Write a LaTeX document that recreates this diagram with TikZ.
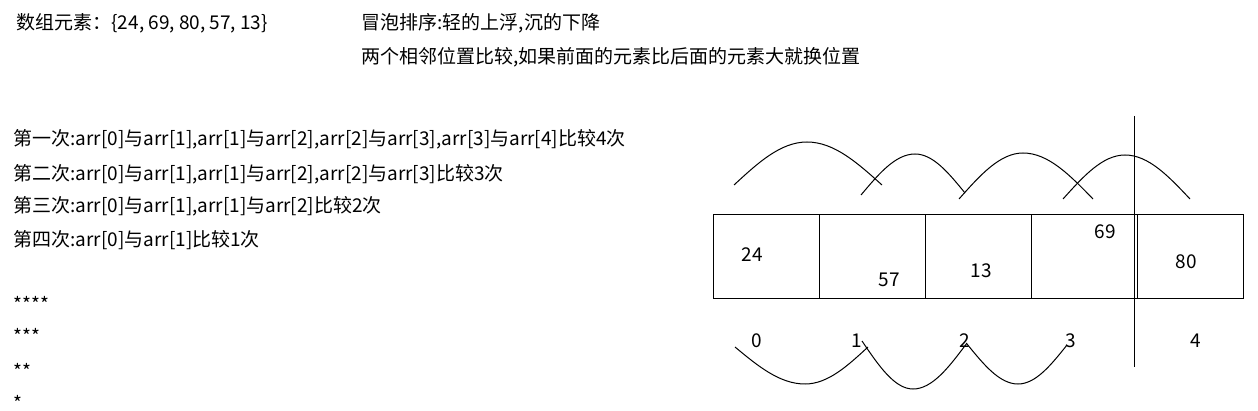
\documentclass[tikz,border=0pt]{standalone}
\usepackage{fontspec}
\setmainfont{Noto Sans CJK SC}
\usetikzlibrary{positioning}

\begin{document}
\begin{tikzpicture}[x=1pt,y=-1pt,node distance=106pt,on grid,line width=1pt,
  every node/.style={font=\fontsize{19}{23}\selectfont,inner sep=0pt},
  cell/.style={draw,minimum width=106pt,minimum height=84pt},
  txt/.style={anchor=base west},
  num/.style={anchor=base}]
  \useasboundingbox (0,0) rectangle (1258,411);

  % explanation text
  \node[txt] (title) at (16,30)  {数组元素：\{24, 69, 80, 57, 13\}};
  \node[txt] (rule1) at (361,30) {冒泡排序:轻的上浮,沉的下降};
  \node[txt] (rule2) at (361,64) {两个相邻位置比较,如果前面的元素比后面的元素大就换位置};
  \node[txt] (p1) at (13,146)   {第一次:arr[0]与arr[1],arr[1]与arr[2],arr[2]与arr[3],arr[3]与arr[4]比较4次};
  \node[txt] (p2) at (13,180.5) {第二次:arr[0]与arr[1],arr[1]与arr[2],arr[2]与arr[3]比较3次};
  \node[txt] (p3) at (13,213)   {第三次:arr[0]与arr[1],arr[1]与arr[2]比较2次};
  \node[txt] (p4) at (13,246.5) {第四次:arr[0]与arr[1]比较1次};
  \node[txt] (s4) at (13,312) {****};
  \node[txt] (s3) at (13,344) {***};
  \node[txt] (s2) at (13,378) {**};
  \node[txt] (s1) at (13,410) {*};

  % array cells
  \node[cell] (0) at (766.5,257) {};
  \node[cell] (1) [right=of 0] {};
  \node[cell] (2) [right=of 1] {};
  \node[cell] (3) [right=of 2] {};
  \node[cell] (4) [right=of 3] {};

  \node[num] (v0) at (752,262)   {24};
  \node[num] (v1) at (889,287)   {57};
  \node[num] (v2) at (981,277.5) {13};
  \node[num] (v3) at (1105,239)  {69};
  \node[num] (v4) at (1186,269)  {80};

  % indices
  \node[num] (i0) at (756.5,347.5) {0};
  \node[num] (i1) at (857,347.5)   {1};
  \node[num] (i2) at (965,347.5)   {2};
  \node[num] (i3) at (1071,347.5)  {3};
  \node[num] (i4) at (1196,347.5)  {4};

  % swap arcs
  \draw (734,185) sin (807,142) cos (882,185);
  \draw (861,195) sin (915,154) cos (965,193);
  \draw (959,199) sin (1023,153) cos (1093,199);
  \draw (1063,199) sin (1125,155) cos (1190,199);
  \draw (735,347) sin (805,384) cos (868,347);
  \draw (862,341) sin (913,389) cos (967,343);
  \draw (967,344) sin (1018,384) cos (1067,345);

  \coordinate (top) at (1134.5,116);
  \coordinate (bot) at (1134.5,367);
  \draw (top) -- (bot);
\end{tikzpicture}
\end{document}
